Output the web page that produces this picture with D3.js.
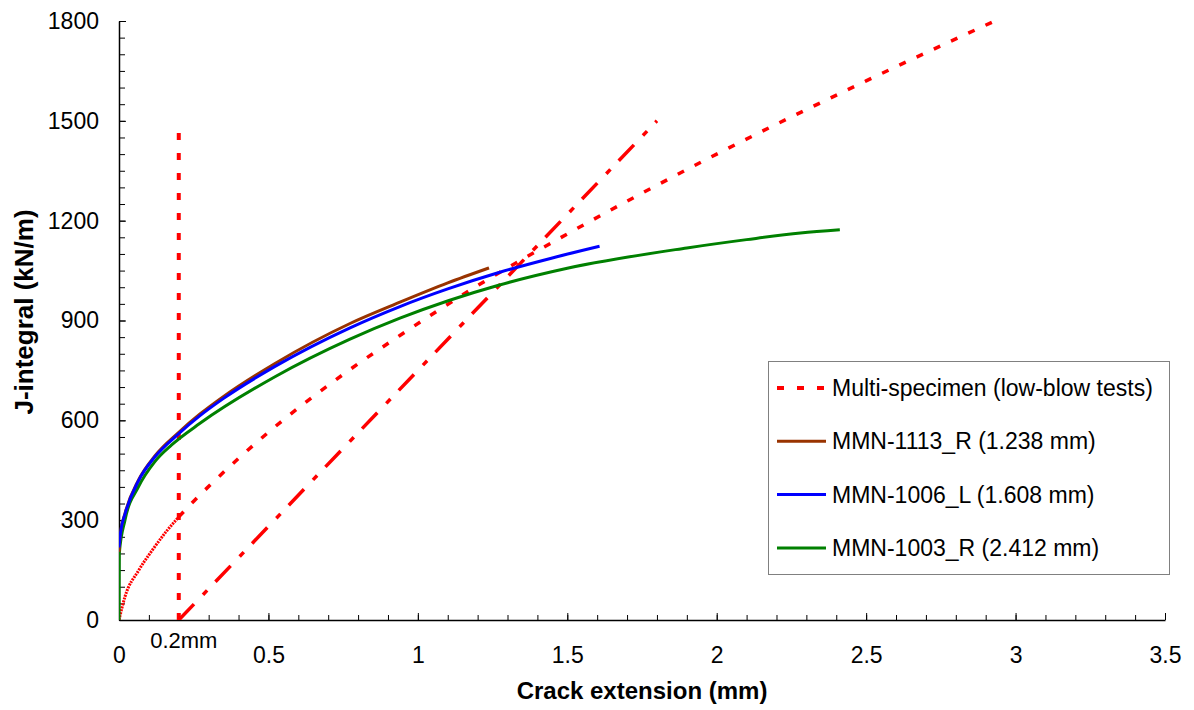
<!DOCTYPE html>
<html>
<head>
<meta charset="utf-8">
<script src="https://cdn.jsdelivr.net/npm/d3@7"></script>
<style>
  body { margin: 0; background: #fff; }
  text { font-family: Arial, 'Liberation Sans', sans-serif; }
</style>
</head>
<body>
<div id="chart"></div>
<script>
// values: crack extension (mm) and J (kN/m)
const multiCrack = [0, 0.02, 0.065, 0.11, 0.16, 0.2, 0.25, 0.31, 0.505, 0.761, 0.94, 1.2, 1.5, 2.0, 2.5, 2.93];
const multiJ = [0, 70, 148, 208, 268, 310, 357, 410, 568, 745, 855, 1005, 1160, 1400, 1620, 1800];

const brownCrack = [0, 0.005, 0.02, 0.065, 0.12, 0.2, 0.271, 0.35, 0.522, 0.773, 0.94, 1.1, 1.238];
const brownJ = [205, 262, 320, 420, 493, 564, 619, 672, 771, 891, 955, 1013, 1058];

const blueCrack = [0, 0.005, 0.02, 0.065, 0.12, 0.2, 0.271, 0.35, 0.522, 0.773, 0.94, 1.1, 1.274, 1.45, 1.608];
const blueJ = [218, 262, 318, 418, 490, 560, 614, 666, 762, 878, 942, 995, 1045, 1088, 1123];

const greenCrack = [0, 0.001, 0.02, 0.065, 0.12, 0.176, 0.271, 0.522, 0.773, 0.94, 1.27, 1.5, 1.9, 2.1, 2.28, 2.412];
const greenJ = [0, 200, 300, 400, 476, 526, 591, 731, 844, 907, 1006, 1057, 1118, 1143, 1163, 1173];

const exclCrack = [0.2, 1.8];
const exclJ = [0, 1500];
const offsetCrack = [0.2, 0.2];
const offsetJ = [0, 1500];

const xTicks = [0, 0.5, 1, 1.5, 2, 2.5, 3, 3.5];
const yTicks = [0, 300, 600, 900, 1200, 1500, 1800];

const legendNames = ['Multi-specimen (low-blow tests)', 'MMN-1113_R (1.238 mm)', 'MMN-1006_L (1.608 mm)', 'MMN-1003_R (2.412 mm)'];

const w = 1194;
const h = 710;
const padLeft = 119, padRight = 1165, padTop = 21, padBottom = 620;
const red = '#ff0000';

const pairs = (xs, ys) => xs.map((v, i) => [v, ys[i]]);

const svg = d3.select('#chart').
append('svg').
attr('width', w).
attr('height', h);

const xScale = d3.scaleLinear().domain([0, 3.5]).range([padLeft, padRight]);
const yScale = d3.scaleLinear().domain([0, 1800]).range([padBottom, padTop]);

svg.append('clipPath').attr('id', 'plot').
append('rect').
attr('x', padLeft).attr('y', padTop - 2).
attr('width', padRight - padLeft).attr('height', padBottom - padTop + 2);

// minor ticks
svg.append('g').
attr('transform', 'translate(0,' + padBottom + ')').
call(d3.axisBottom(xScale).tickValues(d3.range(0, 3.51, 0.1)).tickSize(-5).tickSizeOuter(0).tickFormat('')).
call(g => g.select('.domain').remove());
svg.append('g').
attr('transform', 'translate(' + padLeft + ',0)').
call(d3.axisLeft(yScale).tickValues(d3.range(0, 1801, 50)).tickSize(-6).tickSizeOuter(0).tickFormat('')).
call(g => g.select('.domain').remove());

// major axes
const xAxis = svg.append('g').
attr('transform', 'translate(0,' + padBottom + ')').
call(d3.axisBottom(xScale).tickValues(xTicks).tickSize(-7).tickSizeOuter(0).tickPadding(27).tickFormat(d => String(d)));
const yAxis = svg.append('g').
attr('transform', 'translate(' + padLeft + ',0)').
call(d3.axisLeft(yScale).tickValues(yTicks).tickSize(-7).tickSizeOuter(0).tickPadding(20).tickFormat(d => String(d)));

[xAxis, yAxis].forEach(g => {
  g.selectAll('text').attr('font-size', 23).attr('font-family', 'Arial, Liberation Sans, sans-serif').attr('fill', '#000');
  g.select('.domain').attr('stroke-width', 1.5);
});

svg.append('text').
attr('x', xScale(0.2) + 5).
attr('y', 648).
attr('text-anchor', 'middle').
attr('font-size', 22).
text('0.2mm');

svg.append('text').
attr('x', 642).
attr('y', 699).
attr('text-anchor', 'middle').
attr('font-size', 24).
attr('font-weight', 'bold').
text('Crack extension (mm)');

svg.append('text').
attr('transform', 'rotate(-90)').
attr('x', -312).
attr('y', 33).
attr('text-anchor', 'middle').
attr('font-size', 26).
attr('font-weight', 'bold').
text('J-integral (kN/m)');

const line = d3.line().
x(d => xScale(d[0])).
y(d => yScale(d[1])).
curve(d3.curveMonotoneX);
const straight = d3.line().x(d => xScale(d[0])).y(d => yScale(d[1]));

const plot = svg.append('g').attr('clip-path', 'url(#plot)');

const multi = pairs(multiCrack, multiJ);

plot.append('path').
datum(pairs(offsetCrack, offsetJ)).
attr('d', straight).
attr('fill', 'none').attr('stroke', red).attr('stroke-width', 4).
attr('stroke-dasharray', '7,13');

plot.append('path').
datum(pairs(exclCrack, exclJ)).
attr('d', straight).
attr('fill', 'none').attr('stroke', red).attr('stroke-width', 3.5).
attr('stroke-dasharray', '22,13,6,12');

plot.append('path').
datum(multi.filter(d => d[0] <= 0.2)).
attr('d', line).
attr('fill', 'none').attr('stroke', red).attr('stroke-width', 3).
attr('stroke-dasharray', '2,1');

plot.append('path').
datum(multi.filter(d => d[0] >= 0.2)).
attr('d', line).
attr('fill', 'none').attr('stroke', red).attr('stroke-width', 3.5).
attr('stroke-dasharray', '7,12');

const series = [
[pairs(greenCrack, greenJ), '#008000'],
[pairs(brownCrack, brownJ), '#993300'],
[pairs(blueCrack, blueJ), '#0000ff']];

series.forEach(s => {
  plot.append('path').
  datum(s[0]).
  attr('d', line).
  attr('fill', 'none').
  attr('stroke', s[1]).
  attr('stroke-width', 3);
});

// legend
const legend = svg.append('g');
legend.append('rect').
attr('x', 768.5).attr('y', 361.5).
attr('width', 401).attr('height', 213).
attr('fill', '#fff').attr('stroke', '#808080').attr('stroke-width', 1);

const legendColors = [red, '#993300', '#0000ff', '#008000'];
legendNames.forEach((name, i) => {
  const yy = 388 + i * 53.3;
  legend.append('line').
  attr('x1', 777).attr('x2', 826).
  attr('y1', yy).attr('y2', yy).
  attr('stroke', legendColors[i]).
  attr('stroke-width', i === 0 ? 4 : 3).
  attr('stroke-dasharray', i === 0 ? '7,13' : null);
  legend.append('text').
  attr('x', 832).
  attr('y', yy + 8).
  attr('font-size', 23).
  text(name);
});
</script>
</body>
</html>
